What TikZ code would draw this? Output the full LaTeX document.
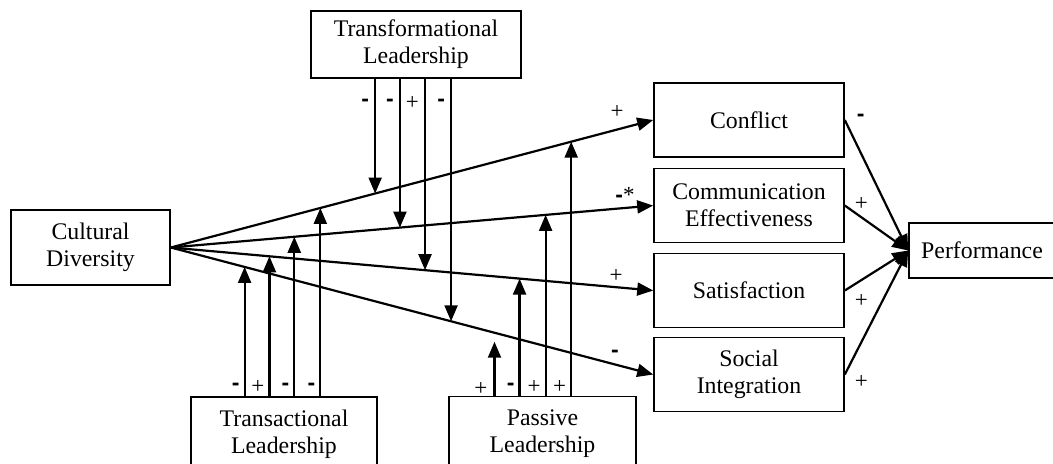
\documentclass[tikz,border=0pt]{standalone}
\usepackage{fontspec}
\setmainfont{Liberation Serif}
\setsansfont{Liberation Sans}
\usetikzlibrary{arrows.meta, calc}
\newcommand{\mn}{\textsf{\textbf{-}}}

\begin{document}
\begin{tikzpicture}[x=0.5pt, y=-0.5pt,
  box/.style={draw, line width=0.8pt, align=center, inner sep=0pt,
    font=\fontsize{11.9}{13.5}\selectfont},
  medbox/.style={box, minimum width=95pt, minimum height=37pt},
  arr/.style={line width=1.1pt, -{Triangle[length=8pt, width=6.5pt]}},
  sign/.style={inner sep=0.5pt, font=\fontsize{11.5}{13}\selectfont}]
  \useasboundingbox (0,0) rectangle (1053,463);

  % boxes
  \node[box, minimum width=79.5pt, minimum height=37.5pt] (cd) at (90.5,247.5) {Cultural\\Diversity};
  \node[box, minimum width=105pt, minimum height=33.5pt] (tfl) at (416,44.5) {Transformational\\Leadership};
  \node[box, minimum width=93pt, minimum height=37pt] (tal) at (284,434) {Transactional\\Leadership};
  \node[box, minimum width=93.5pt, minimum height=37pt] (pal) at (542.5,433.5) {Passive\\Leadership};
  \node[medbox] (conf) at (749,120) {Conflict};
  \node[medbox] (comm) at (749,205.5) {Communication\\Effectiveness};
  \node[medbox] (sat) at (749,290.5) {Satisfaction};
  \node[medbox] (soc) at (749,374.5) {Social\\Integration};
  \node[box, minimum width=73pt, minimum height=27.5pt] (perf) at (982,250.5) {Performance};

  % diversity -> mediators
  \foreach \m in {conf, comm, sat, soc}
    \draw[arr] (cd.east) -- (\m.west);
  \node[sign] (sconf) at (617,112) {+};
  \node[sign] (scomm) at (625,195) {\mn*};
  \node[sign] (ssat) at (616,276) {+};
  \node[sign] (ssoc) at (615,354) {\mn};

  % points on the paths
  \foreach \n/\tgt/\p in {1/conf/0.4236, 2/comm/0.475, 3/sat/0.527, 4/soc/0.581}
    \path (cd.east) -- (\tgt.west) coordinate[pos=\p] (tf\n);
  \foreach \n/\tgt/\p in {1/soc/0.153, 2/sat/0.2045, 3/comm/0.256, 4/conf/0.31}
    \path (cd.east) -- (\tgt.west) coordinate[pos=\p] (ta\n);
  \foreach \n/\tgt/\p in {1/soc/0.671, 2/sat/0.723, 3/comm/0.777, 4/conf/0.83}
    \path (cd.east) -- (\tgt.west) coordinate[pos=\p] (pa\n);

  % moderators
  \foreach \n/\sg in {1/\mn, 2/\mn, 3/+, 4/\mn}
    \draw[arr] (tf\n |- tfl.south) -- node[sign, at start, anchor=east, xshift=-2pt, yshift=-12pt] {\sg} (tf\n);
  \foreach \n/\sg in {1/\mn, 2/+, 3/\mn, 4/\mn}
    \draw[arr] (ta\n |- tal.north) -- node[sign, at start, anchor=east, xshift=-1.5pt, yshift=4.5pt] {\sg} (ta\n);
  \draw[arr] (pa1 |- pal.north) -- node[sign, at start, anchor=east, xshift=-2.5pt, yshift=3.5pt] {+} ([yshift=-4.5pt]pa1);
  \foreach \n/\sg in {2/\mn, 3/+, 4/+}
    \draw[arr] (pa\n |- pal.north) -- node[sign, at start, anchor=east, xshift=-1.5pt, yshift=4.5pt] {\sg} (pa\n);

  % mediators -> performance
  \draw[arr] (conf.east) -- node[sign, at start, anchor=west, xshift=5pt, yshift=1pt] {\mn} (perf.west);
  \draw[arr] (comm.east) -- node[sign, at start, anchor=west, xshift=4pt, yshift=1pt] {+} (perf.west);
  \draw[arr] (sat.east) -- node[sign, at start, anchor=west, xshift=4pt, yshift=-5pt] {+} (perf.west);
  \draw[arr] (soc.east) -- node[sign, at start, anchor=west, xshift=4pt, yshift=-3.5pt] {+} (perf.west);
\end{tikzpicture}
\end{document}
